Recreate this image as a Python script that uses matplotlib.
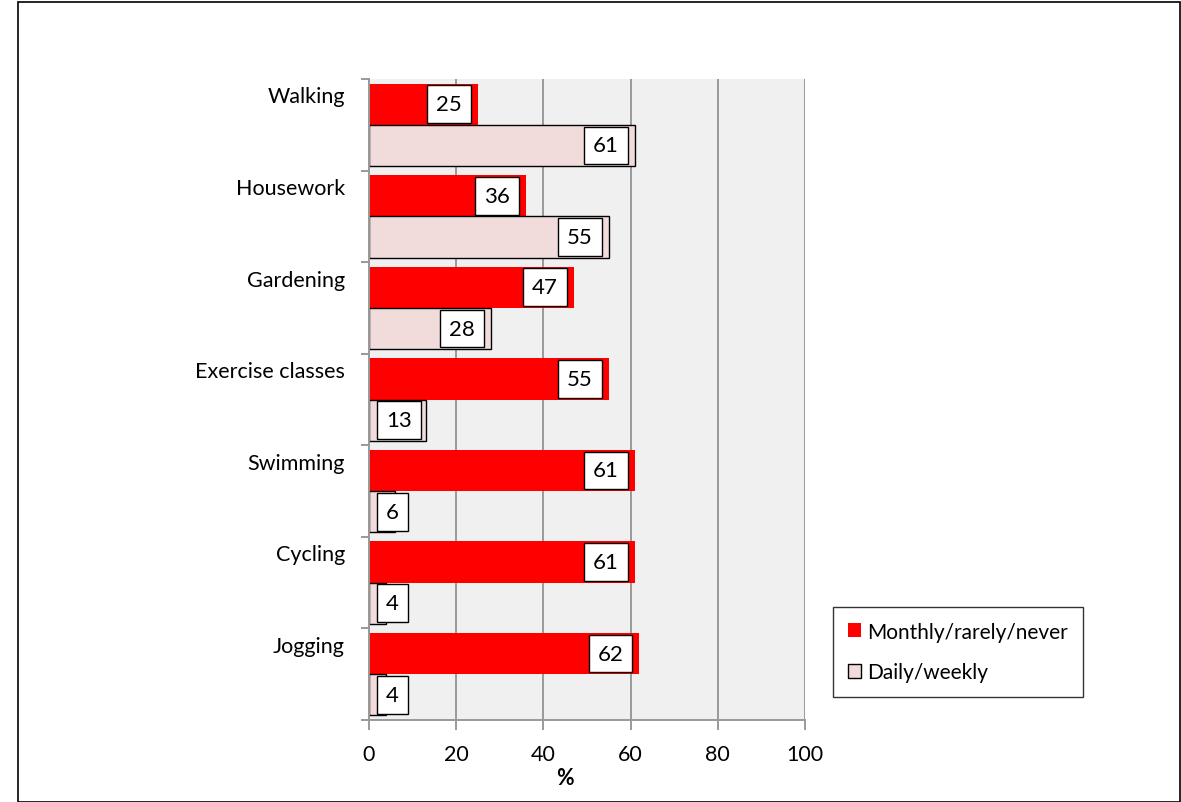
import matplotlib
matplotlib.use("Agg")
import matplotlib.pyplot as plt
from matplotlib.patches import Rectangle, Patch

categories = ["Walking", "Housework", "Gardening", "Exercise classes", "Swimming", "Cycling", "Jogging"]
monthly = [25, 36, 47, 55, 61, 61, 62]
daily = [61, 55, 28, 13, 6, 4, 4]
xticks = [0, 20, 40, 60, 80, 100]
series_names = ["Monthly/rarely/never", "Daily/weekly"]

RED = "#FF0000"
PINK = "#F2DCDB"
GRID = "#999999"
FONT = "Lato"
FS = 15.5
LFS = 16

plt.rcParams["font.family"] = [FONT, "DejaVu Sans"]

W, H = 1181, 803
fig = plt.figure(figsize=(W / 100, H / 100), dpi=100)
fig.patch.set_facecolor("white")
fig.add_artist(Rectangle((18 / W, 0), 1 - 18 / W - 1 / W, 1 - 3 / H, transform=fig.transFigure,
                         fill=False, edgecolor="black", linewidth=1.2))

ax = fig.add_axes([369 / W, 1 - 721 / H, 436 / W, (721 - 80) / H])
ax.set_facecolor("#F0F0F0")
n = len(categories)
centers = [n - 1 - i for i in range(n)]
bh = 0.45
ax.barh([c + bh / 2 for c in centers], monthly, height=bh, color=RED, edgecolor="none", zorder=2)
ax.barh([c - bh / 2 for c in centers], daily, height=bh, color=PINK, edgecolor="black", linewidth=1.0, zorder=2)

ax.set_xlim(0, 100)
ax.set_ylim(-0.5, n - 0.5)
ax.set_xticks(xticks)
ax.set_xticklabels([str(t) for t in xticks], fontsize=FS)
ax.xaxis.grid(True, color=GRID, linewidth=1.4, zorder=1)
ax.set_axisbelow(True)
ax.set_yticks([c - 0.5 for c in range(n + 1)])
ax.set_yticklabels([])
ax.tick_params(axis="y", direction="out", length=6, color=GRID, width=1.4)
ax.tick_params(axis="x", direction="out", length=7, color=GRID, width=1.4, pad=10)
for s in ["top", "right"]:
    ax.spines[s].set_visible(False)
for s in ["left", "bottom"]:
    ax.spines[s].set_color(GRID)
    ax.spines[s].set_linewidth(1.4)
ax.set_xlabel("%", fontsize=FS, fontweight="bold")
ax.xaxis.set_label_coords((565 - 369) / 436, -0.073)

# category labels
for c, name in zip(centers, categories):
    ax.text(-5.5, c + 0.31, name, ha="right", va="center", fontsize=FS, clip_on=False)

# data labels
fig.canvas.draw()
renderer = fig.canvas.get_renderer()
PAD = 0.4
pad_px = PAD * LFS * 100 / 72
ppu = ax.transData.transform((1, 0))[0] - ax.transData.transform((0, 0))[0]

def label(v, y):
    t = ax.text(0, y, str(v), fontsize=LFS, va="center", ha="right", zorder=5,
                bbox=dict(boxstyle=f"square,pad={PAD}", facecolor="white", edgecolor="black", linewidth=1.0))
    tw = t.get_window_extent(renderer).width
    right_box = v * ppu - 7
    left_box = right_box - tw - 2 * pad_px
    if left_box < 8:
        t.set_ha("left")
        t.set_x((8 + pad_px) / ppu)
    else:
        t.set_x((right_box - pad_px) / ppu)

for c, v in zip(centers, monthly):
    label(v, c + bh / 2)
for c, v in zip(centers, daily):
    label(v, c - bh / 2)

handles = [Patch(facecolor=RED, edgecolor="none"), Patch(facecolor=PINK, edgecolor="black", linewidth=1.0)]
leg = fig.legend(handles, series_names, loc="upper left", bbox_to_anchor=(833 / W, 1 - 608 / H),
                 fontsize=15, frameon=True, fancybox=False, edgecolor="black",
                 handlelength=0.65, handleheight=0.65, handletextpad=0.3, labelspacing=1.0,
                 borderpad=0.7, borderaxespad=0)
leg.get_frame().set_linewidth(1.0)

fig.savefig("out.png", dpi=100)
